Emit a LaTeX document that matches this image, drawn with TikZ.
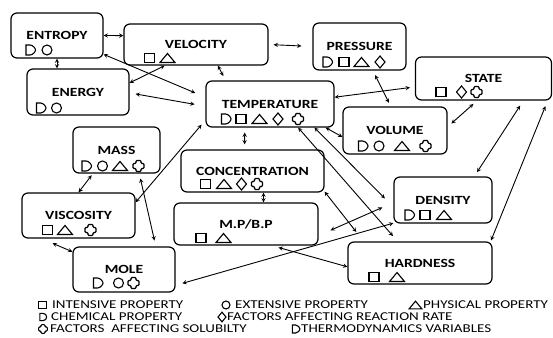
\documentclass[tikz,border=0pt]{standalone}
\usepackage{fontspec}
\setmainfont{Carlito}[FakeStretch=1.25]
\begin{document}
\begin{tikzpicture}[x=1pt,y=-1pt]
	\tikzstyle{Box} = [rectangle, rounded corners=6pt, draw=black, line width=1.2pt, inner sep=0pt, font=\bfseries\fontsize{12.5}{12.5}\selectfont]
	\tikzstyle{Key} = [anchor=west, inner sep=0pt, font=\fontsize{12}{12}\selectfont]
	\tikzstyle{Sym} = [line width=1.1pt]
	\tikzstyle{arrow} = [line width=0.9pt,<->,>=stealth]
	\tikzset{
		sqr/.pic={\draw[Sym] (-5,-4.5) rectangle (5,4.5);},
		ring/.pic={\draw[Sym] (0,0) circle (5);},
		tri/.pic={\draw[Sym] (-7.5,4.5) -- (0,-4.5) -- (7.5,4.5) -- cycle;},
		dia/.pic={\draw[Sym] (0,-6) -- (5,0) -- (0,6) -- (-5,0) -- cycle;},
		thermo/.pic={\draw[Sym] (-4.5,-5) -- (-4.5,5) -- (-0.5,5) .. controls (2.5,5) and (5,1.5) .. (5,0) .. controls (5,-1.5) and (2.5,-5) .. (-0.5,-5) -- cycle;},
		chem/.pic={\draw[Sym] (-4,-4.5) -- (-4,4.5) -- (0,4.5) .. controls (3,4.5) and (4.5,2.5) .. (4.5,0) .. controls (4.5,-2.5) and (3,-4.5) .. (0,-4.5) -- cycle;},
		plus/.pic={\draw[Sym, rounded corners=1pt] (-2.5,-5.5) -- (2.5,-5.5) -- (2.5,-2.5) -- (5.5,-2.5) -- (5.5,2.5) -- (2.5,2.5) -- (2.5,5.5) -- (-2.5,5.5) -- (-2.5,2.5) -- (-5.5,2.5) -- (-5.5,-2.5) -- (-2.5,-2.5) -- cycle;}
	}
	\useasboundingbox (0,0) rectangle (553,337);
	
	% boxes
	\node (ent) [Box, minimum width=92pt, minimum height=45pt] at (57,35.5) {ENTROPY};
	\node (vel) [Box, minimum width=144pt, minimum height=41pt] at (196,44.5) {VELOCITY};
	\node (ene) [Box, minimum width=102pt, minimum height=46pt] at (78,92) {ENERGY};
	\node (temp) [Box, minimum width=128pt, minimum height=46pt] at (270,104) {TEMPERATURE};
	\node (mass) [Box, minimum width=87pt, minimum height=46pt] at (116.5,150) {MASS};
	\node (pres) [Box, minimum width=93pt, minimum height=47pt] at (359.5,46.5) {PRESSURE};
	\node (state) [Box, minimum width=136pt, minimum height=43pt] at (483.5,78.5) {STATE};
	\node (vol) [Box, minimum width=104pt, minimum height=47pt] at (395,130.5) {VOLUME};
	\node (conc) [Box, minimum width=143pt, minimum height=42pt] at (252.5,171) {CONCENTRATION};
	\node (mp) [Box, minimum width=144pt, minimum height=42pt] at (246,224) {M.P/B.P};
	\node (visc) [Box, minimum width=113pt, minimum height=45pt] at (78.5,215.5) {VISCOSITY};
	\node (mole) [Box, minimum width=102pt, minimum height=45pt] at (124,269.5) {MOLE};
	\node (dens) [Box, minimum width=98pt, minimum height=46pt] at (443,200) {DENSITY};
	\node (hard) [Box, minimum width=144pt, minimum height=42pt] at (420,263) {HARDNESS};
	
	% symbols in the boxes
	\foreach \s/\x in {thermo/30.5, ring/47} \pic at (\x,50) {\s};
	\foreach \s/\x in {sqr/149.5, tri/167.5} \pic at (\x,58) {\s};
	\foreach \s/\x in {thermo/41, ring/56.5} \pic at (\x,108) {\s};
	\foreach \s/\x in {thermo/226, sqr/241, tri/259.5, dia/278, plus/298} \pic at (\x,119) {\s};
	\foreach \s/\x in {thermo/86.5, ring/102.5, tri/120, plus/138.5} \pic at (\x,166) {\s};
	\foreach \s/\x in {thermo/327.5, sqr/344, tri/361.5, dia/380} \pic at (\x,62) {\s};
	\foreach \s/\x in {sqr/441, dia/461.5, plus/476.5} \pic at (\x,92) {\s};
	\foreach \s/\x in {thermo/363, ring/379, tri/402, plus/425.5} \pic at (\x,146) {\s};
	\foreach \s/\x in {sqr/205.5, tri/224, dia/241.5, plus/257} \pic at (\x,184) {\s};
	\foreach \s/\x in {sqr/201, tri/223.5} \pic at (\x,238) {\s};
	\foreach \s/\x in {sqr/47.5, tri/65, plus/90.5} \pic at (\x,230) {\s};
	\foreach \s/\x in {thermo/98, ring/118.5, plus/133.5} \pic at (\x,283) {\s};
	\foreach \s/\x in {thermo/409.5, sqr/425, tri/444} \pic at (\x,215) {\s};
	\foreach \s/\x in {sqr/374, tri/397} \pic at (\x,277) {\s};
	
	% links
	\draw[arrow] (ent.east) -- (vel.173);
	\draw[arrow] (ent.south) -- (ent.south |- ene.north);
	\draw[arrow, shorten >=5pt] (vel.-44) -- (temp.152);
	\draw[arrow, shorten >=11pt] (ent.-22) -- (temp.174);
	\draw[arrow] (ene.10) -- (vel.214);
	\draw[arrow, shorten <=6pt, shorten >=11pt] (ene.-1) -- (temp.182);
	\draw[arrow, shorten <=5pt, shorten >=11pt] (vel.east) -- (pres.west);
	\draw[arrow, shorten >=6pt] (visc.13) -- (temp.194);
	\draw[arrow, shorten <=5pt, shorten >=4pt] (pres.-61) -- (vol.100);
	\draw[arrow, shorten >=5pt] (temp.6) -- (state.187);
	\draw[arrow, shorten <=5pt, shorten >=5pt] (vol.4) -- (state.254);
	\draw[arrow] (temp.-23) -- (vol.187);
	\draw[arrow, shorten <=6pt, shorten >=5pt] (state.-29) -- (dens.37);
	\draw[arrow, shorten <=6pt, shorten >=1pt] (state.-19) -- (hard.17);
	\draw[arrow, shorten >=12pt] (temp.-28) -- (dens.188);
	\draw[arrow, shorten >=7pt] (temp.-40) -- (hard.136);
	\draw[arrow] (conc.-63) -- (mp.51);
	\draw[arrow, shorten <=5pt, shorten >=5pt] (temp.223) -- (conc.110);
	\draw[arrow, shorten >=12pt] (conc.-16) -- (hard.159);
	\draw[arrow, shorten <=13pt, shorten >=12pt] (mp.-9) -- (dens.183);
	\draw[arrow, shorten <=7pt] (mole.-17) -- (dens.205);
	\draw[arrow, shorten <=7pt] (mp.-40) -- (hard.183);
	\draw[arrow, shorten <=2pt] (mass.225) -- (visc.north);
	\draw[arrow, shorten <=5pt, shorten >=6pt] (mass.-46) -- (mole.36);
	\draw[arrow, shorten <=12pt] (visc.212) -- (mole.161);
	
	% legend
	\pic[scale=.8] at (42.5,305) {sqr};
	\node (kint) [Key] at (52,305) {INTENSIVE PROPERTY};
	\pic[scale=.8] at (226,305) {ring};
	\node (kext) [Key] at (235,305) {EXTENSIVE PROPERTY};
	\pic[scale=.85] at (415.5,305) {tri};
	\node (kphy) [Key] at (423,305) {PHYSICAL PROPERTY};
	\pic[scale=.8] at (43,317) {chem};
	\node (kchem) [Key] at (51,317) {CHEMICAL PROPERTY};
	\pic[scale=.8] at (222,317) {dia};
	\node (krate) [Key] at (227,317) {FACTORS AFFECTING REACTION RATE};
	\pic[scale=.8] at (43,329) {plus};
	\node (ksol) [Key] at (50,329) {FACTORS\ \ AFFECTING SOLUBILTY};
	\pic[scale=.8] at (296,329) {thermo};
	\node (kthermo) [Key] at (301,329) {THERMODYNAMICS VARIABLES};
\end{tikzpicture}
\end{document}
